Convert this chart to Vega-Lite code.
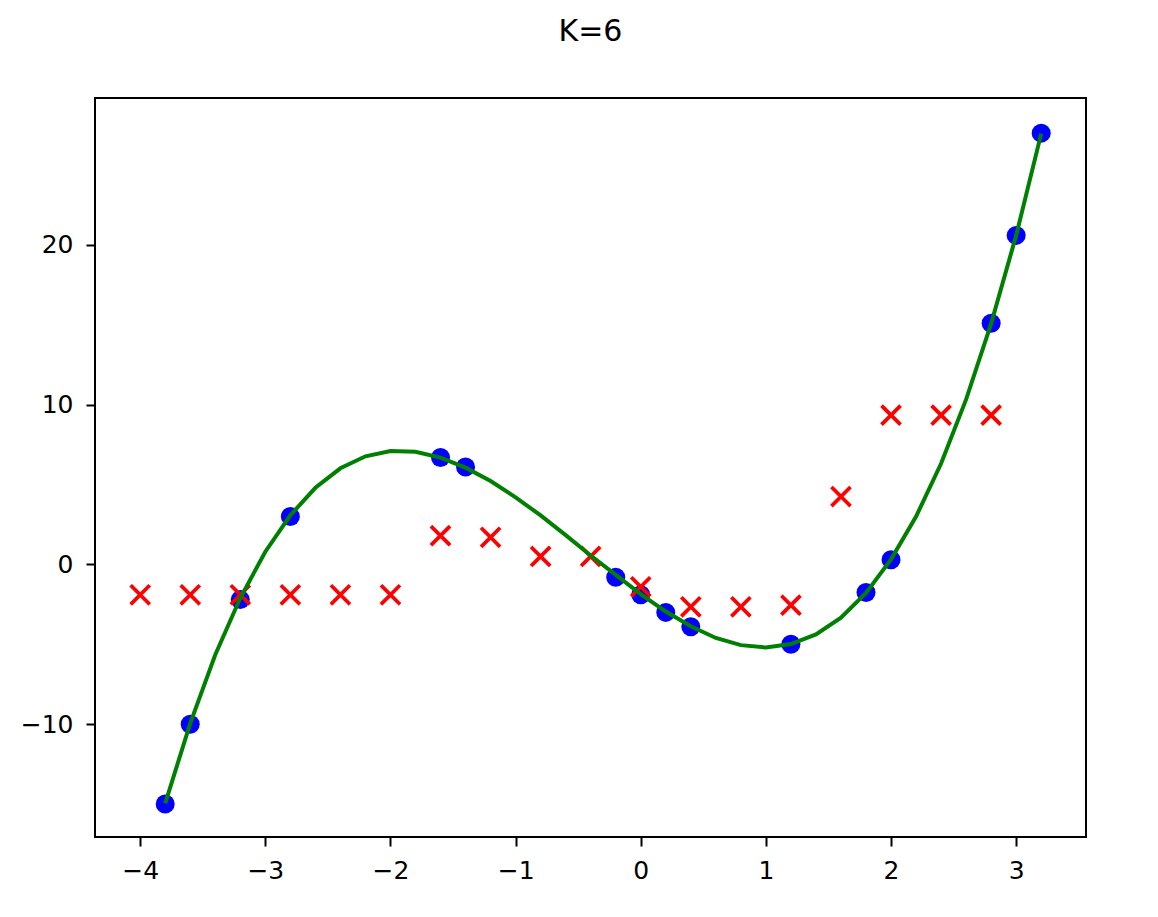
{
  "$schema": "https://vega.github.io/schema/vega-lite/v6.json",
  "width": 991,
  "height": 739,
  "autosize": {"type": "none"},
  "padding": {"left": 95, "top": 98, "right": 72, "bottom": 80},
  "background": "white",
  "title": {
    "text": "K=6",
    "font": "DejaVu Sans",
    "fontSize": 30,
    "fontWeight": "normal",
    "color": "black",
    "anchor": "middle",
    "baseline": "alphabetic",
    "offset": 27
  },
  "config": {
    "view": {"stroke": "black", "strokeWidth": 2},
    "axis": {
      "grid": false,
      "domain": false,
      "ticks": true,
      "tickColor": "black",
      "tickWidth": 2,
      "tickSize": 9,
      "labelFont": "DejaVu Sans",
      "labelFontSize": 25,
      "labelColor": "black",
      "title": null
    }
  },
  "datasets": {
    "blue": [
      {"x": -3.8, "y": -15.0},
      {"x": -3.6, "y": -10.0},
      {"x": -3.2, "y": -2.2},
      {"x": -2.8, "y": 3.0},
      {"x": -1.6, "y": 6.7},
      {"x": -1.4, "y": 6.1},
      {"x": -0.2, "y": -0.8},
      {"x": 0.0, "y": -1.9},
      {"x": 0.2, "y": -3.0},
      {"x": 0.4, "y": -3.9},
      {"x": 1.2, "y": -5.0},
      {"x": 1.8, "y": -1.75},
      {"x": 2.0, "y": 0.3},
      {"x": 2.8, "y": 15.1},
      {"x": 3.0, "y": 20.6},
      {"x": 3.2, "y": 27.0}
    ],
    "red": [
      {"x": -4.0, "y": -1.9},
      {"x": -3.6, "y": -1.9},
      {"x": -3.2, "y": -1.9},
      {"x": -2.8, "y": -1.9},
      {"x": -2.4, "y": -1.9},
      {"x": -2.0, "y": -1.9},
      {"x": -1.6, "y": 1.8},
      {"x": -1.2, "y": 1.7},
      {"x": -0.8, "y": 0.5},
      {"x": -0.4, "y": 0.5},
      {"x": 0.0, "y": -1.4},
      {"x": 0.4, "y": -2.65},
      {"x": 0.8, "y": -2.65},
      {"x": 1.2, "y": -2.55},
      {"x": 1.6, "y": 4.25},
      {"x": 2.0, "y": 9.35},
      {"x": 2.4, "y": 9.35},
      {"x": 2.8, "y": 9.35}
    ],
    "green": [
      {"x": -3.8, "y": -14.95},
      {"x": -3.6, "y": -9.95},
      {"x": -3.4, "y": -5.65},
      {"x": -3.2, "y": -2.1},
      {"x": -3.0, "y": 0.8},
      {"x": -2.8, "y": 3.08},
      {"x": -2.6, "y": 4.8},
      {"x": -2.4, "y": 6.02},
      {"x": -2.2, "y": 6.77},
      {"x": -2.0, "y": 7.1},
      {"x": -1.8, "y": 7.06},
      {"x": -1.6, "y": 6.69},
      {"x": -1.4, "y": 6.06},
      {"x": -1.2, "y": 5.22},
      {"x": -1.0, "y": 4.2},
      {"x": -0.8, "y": 3.07},
      {"x": -0.6, "y": 1.84},
      {"x": -0.4, "y": 0.56},
      {"x": -0.2, "y": -0.65},
      {"x": 0.0, "y": -1.85},
      {"x": 0.2, "y": -2.95},
      {"x": 0.4, "y": -3.87},
      {"x": 0.6, "y": -4.6},
      {"x": 0.8, "y": -5.05},
      {"x": 1.0, "y": -5.2},
      {"x": 1.2, "y": -4.98},
      {"x": 1.4, "y": -4.38},
      {"x": 1.6, "y": -3.33},
      {"x": 1.8, "y": -1.78},
      {"x": 2.0, "y": 0.32},
      {"x": 2.2, "y": 3.0},
      {"x": 2.4, "y": 6.32},
      {"x": 2.6, "y": 10.33},
      {"x": 2.8, "y": 15.08},
      {"x": 3.0, "y": 20.6},
      {"x": 3.2, "y": 26.97}
    ]
  },
  "encoding": {
    "x": {
      "field": "x",
      "type": "quantitative",
      "scale": {"domain": [-4.361, 3.558], "nice": false, "zero": false},
      "axis": {"values": [-4, -3, -2, -1, 0, 1, 2, 3], "labelPadding": 12, "format": "d"}
    },
    "y": {
      "field": "y",
      "type": "quantitative",
      "scale": {"domain": [-17.06, 29.2], "nice": false, "zero": false},
      "axis": {"values": [-10, 0, 10, 20], "labelPadding": 13, "format": "d"}
    }
  },
  "layer": [
    {
      "data": {"name": "blue"},
      "mark": {"type": "point", "shape": "circle", "filled": true, "color": "#0000ff", "size": 361, "opacity": 1}
    },
    {
      "data": {"name": "red"},
      "mark": {"type": "point", "shape": "M-1,-1L1,1M-1,1L1,-1", "filled": false, "stroke": "#ff0000", "strokeWidth": 3.75, "size": 270, "opacity": 1, "strokeCap": "square"}
    },
    {
      "data": {"name": "green"},
      "mark": {"type": "line", "color": "#008000", "strokeWidth": 4}
    }
  ]
}
